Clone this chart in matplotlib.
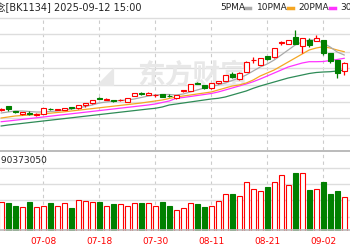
import matplotlib
matplotlib.use("Agg")
import matplotlib.pyplot as plt

plt.rcParams['font.family'] = ['DejaVu Sans', 'Noto Sans CJK SC']

# trading days visible in the crop (06-30 .. 09-05)
dates = ['06-30', '07-01', '07-02', '07-03', '07-04', '07-07', '07-08', '07-09', '07-10', '07-11',
         '07-14', '07-15', '07-16', '07-17', '07-18', '07-21', '07-22', '07-23', '07-24', '07-25',
         '07-28', '07-29', '07-30', '07-31', '08-01', '08-04', '08-05', '08-06', '08-07', '08-08',
         '08-11', '08-12', '08-13', '08-14', '08-15', '08-18', '08-19', '08-20', '08-21', '08-22',
         '08-25', '08-26', '08-27', '08-28', '08-29', '09-01', '09-02', '09-03', '09-04', '09-05']

open_ = [40.0, 44.0, 39.3, 35.7, 36.8, 35.3, 36.0, 41.2, 40.3, 40.0,
         42.5, 41.7, 45.0, 46.7, 51.9, 50.3, 49.5, 49.6, 48.3, 54.3,
         56.9, 55.0, 54.8, 55.7, 54.2, 51.7, 59.0, 59.3, 66.9, 65.0,
         61.7, 66.7, 69.3, 75.7, 70.7, 78.3, 89.7, 85.0, 94.0, 92.7,
         107.0, 106.0, 113.3, 104.0, 110.0, 109.3, 110.0, 96.7, 90.0, 79.3]
high = [42.0, 44.5, 39.5, 38.0, 38.7, 37.0, 42.3, 42.0, 41.5, 42.0,
        43.0, 45.3, 47.0, 50.3, 53.0, 51.7, 50.3, 50.7, 52.0, 57.0,
        57.7, 57.7, 56.0, 56.0, 55.7, 55.3, 60.0, 66.0, 68.0, 65.3,
        67.0, 69.3, 75.3, 78.3, 77.7, 88.7, 92.7, 92.0, 94.3, 102.0,
        109.5, 110.3, 120.0, 112.0, 111.7, 115.0, 110.3, 97.0, 90.3, 87.7]
low = [39.5, 39.3, 36.7, 35.5, 34.7, 34.0, 35.7, 40.0, 40.0, 39.7,
       41.5, 41.5, 43.3, 46.5, 50.7, 50.0, 48.3, 49.0, 48.0, 54.0,
       55.0, 54.7, 53.5, 53.0, 53.0, 51.5, 58.0, 59.0, 66.0, 61.5,
       61.5, 66.5, 69.0, 72.5, 70.5, 78.0, 87.3, 84.7, 90.5, 92.5,
       105.0, 105.7, 105.7, 97.3, 102.7, 109.0, 95.0, 87.3, 71.7, 75.0]
close = [41.5, 41.3, 38.0, 37.7, 36.5, 36.0, 42.0, 40.8, 41.0, 41.7,
         42.1, 45.0, 46.7, 50.0, 51.5, 51.0, 49.2, 50.3, 51.7, 56.7,
         56.5, 57.3, 55.2, 53.3, 53.8, 55.0, 59.5, 65.7, 66.5, 61.7,
         66.7, 69.0, 75.0, 72.7, 77.3, 88.3, 90.3, 91.7, 90.7, 101.7,
         107.6, 110.0, 106.0, 111.7, 105.0, 111.7, 96.7, 89.3, 77.3, 87.3]
volume = [29.0, 27.4, 24.7, 23.7, 29.0, 23.4, 25.0, 27.4, 25.0, 27.7,
          22.4, 30.4, 29.7, 28.7, 28.7, 24.4, 26.4, 26.7, 25.0, 27.7,
          27.4, 27.4, 24.4, 28.7, 25.0, 20.4, 23.0, 28.0, 27.0, 24.0,
          25.0, 29.7, 36.7, 37.0, 35.0, 48.4, 41.4, 39.4, 43.4, 48.4,
          55.7, 45.7, 57.7, 57.4, 40.7, 41.4, 48.7, 37.0, 39.7, 34.0]

ma5 = [37.0, 38.0, 39.0, 39.0, 38.5, 38.0, 38.0, 38.5, 39.0, 40.0,
       41.0, 42.0, 43.5, 45.0, 47.0, 48.0, 49.0, 49.5, 50.0, 51.0,
       52.5, 54.0, 55.0, 55.5, 55.5, 55.0, 56.0, 58.0, 60.0, 62.0,
       63.5, 65.0, 67.0, 69.5, 72.0, 75.0, 79.0, 83.0, 86.0, 90.0,
       95.0, 100.0, 105.0, 108.0, 110.0, 110.0, 107.0, 103.0, 98.0, 95.0]
ma10 = [32.0, 33.0, 34.0, 34.5, 35.0, 35.5, 36.0, 36.8, 37.5, 38.2,
        39.0, 39.8, 40.6, 41.4, 42.2, 43.0, 43.8, 44.6, 45.4, 46.2,
        47.0, 48.0, 49.0, 50.0, 51.5, 53.0, 54.0, 55.0, 56.0, 57.0,
        58.0, 60.0, 62.0, 64.0, 65.0, 67.0, 70.0, 74.0, 77.0, 80.0,
        84.0, 88.0, 92.0, 96.0, 100.0, 102.0, 103.3, 102.0, 100.0, 98.3]
ma20 = [28.3, 29.0, 29.8, 30.6, 31.4, 32.2, 33.0, 33.8, 34.6, 35.4,
        36.2, 37.0, 37.8, 38.6, 39.4, 40.2, 41.0, 41.8, 42.6, 43.4,
        44.2, 45.0, 46.0, 47.5, 49.0, 51.7, 52.5, 53.5, 54.5, 55.5,
        56.5, 58.0, 60.0, 62.0, 64.0, 66.0, 68.3, 71.0, 74.0, 77.0,
        80.0, 83.0, 85.0, 87.0, 88.3, 88.3, 88.5, 89.5, 90.5, 91.7]
ma30 = [24.0, 25.0, 25.8, 26.6, 27.4, 28.2, 29.0, 29.8, 30.6, 31.4,
        32.2, 33.0, 33.8, 34.6, 35.4, 36.2, 37.0, 37.8, 38.6, 39.4,
        40.2, 41.0, 41.7, 43.0, 45.0, 46.0, 47.0, 48.0, 49.0, 50.0,
        51.0, 51.7, 53.0, 55.0, 57.0, 59.0, 61.7, 64.0, 66.0, 68.0,
        70.0, 72.0, 73.5, 75.0, 76.5, 77.5, 78.0, 78.3, 79.0, 80.0]

tick_labels = ['06-26', '07-08', '07-18', '07-30', '08-11', '08-21', '09-02']

RED = '#ff0000'
GREEN = '#008000'
W, H = 350, 250


def box(x0, y0, x1, y1):
    # pixel box (top-down) -> figure fraction rect
    return [x0 / W, 1 - y1 / H, (x1 - x0) / W, (y1 - y0) / H]


fig = plt.figure(figsize=(W / 100, H / 100), dpi=100)
ax = fig.add_axes(box(0, 17.3, 350, 150))
axv = fig.add_axes(box(0, 150, 350, 230.7))

xs = list(range(len(dates)))
pos = {d: k for k, d in enumerate(dates)}
tick_x = [pos.get(t, pos['07-08'] - 8) for t in tick_labels]

for a in (ax, axv):
    a.set_xlim(-0.17, 49.83)
    for s in a.spines.values():
        s.set_visible(False)
    a.set_xticks([])
    a.set_yticks([])
    for t in tick_x:
        a.axvline(t, color='#cccccc', lw=0.8, ls=(0, (3, 3)), zorder=0)

ax.set_ylim(0, 132.7)
for g in [15.0, 31.7, 48.3, 65.0, 81.7, 98.3, 116.0, 132.4]:
    ax.axhline(g, color='#dddddd', lw=1.0, zorder=0)

axv.set_ylim(0, 80.7)
for g in [63.0, 47.0, 30.7, 14.2]:
    axv.axhline(g, color='#dddddd', lw=1.0, zorder=0)
axv.axhline(80.2, color='#bbbbbb', lw=1.4, zorder=0)
axv.axhline(0.3, color='#bbbbbb', lw=1.2, zorder=3)

# watermark
ax.text(0.55, 0.56, '东方财富', transform=ax.transAxes, ha='center', va='center',
        fontsize=20, fontweight='bold', color='#e8e8e8', family=['Noto Sans CJK SC'], zorder=0)
ax.text(0.30, 0.56, '◢', transform=ax.transAxes, ha='center', va='center',
        fontsize=17, color='#e8e8e8', family=['DejaVu Sans'], zorder=0)

# MA lines
ax.plot(xs, ma30, color='#2e8b57', lw=0.9, zorder=1)
ax.plot(xs, ma20, color='#ff33ff', lw=0.9, zorder=1)
ax.plot(xs, ma10, color='#f5a623', lw=0.9, zorder=1)
ax.plot(xs, ma5, color='#aaaaaa', lw=0.9, zorder=1)

# candles + volume
bw = 0.68
for k in xs:
    o, h, l, c = open_[k], high[k], low[k], close[k]
    up = c >= o
    col = RED if up else GREEN
    ax.vlines(k, l, h, color=col, lw=0.9, zorder=2)
    body = max(abs(c - o), 0.6)
    ax.bar(k, body, bottom=min(o, c), width=bw, color='white' if up else GREEN,
           edgecolor=col, linewidth=0.8, zorder=3)
    axv.bar(k, volume[k], width=0.68, color='white' if up else GREEN,
            edgecolor=col, linewidth=0.8, zorder=2)

# date labels
for t, lab in zip(tick_x, tick_labels):
    axv.text(t, -0.13, lab, transform=axv.get_xaxis_transform(), ha='center', va='center',
             fontsize=6.5, color=RED)

# header texts
fig.text(142 / W, 1 - 7.5 / H, '概念[BK1134] 2025-09-12 15:00', ha='right', va='center',
         fontsize=7, color='#222222')
fig.text(48 / W, 1 - 160 / H, '成交量:90373050', ha='right', va='center',
         fontsize=6.5, color='#222222')
fig.text(220 / W, 1 - 7.5 / H, '5PMA', ha='left', va='center', fontsize=6.5, color='#222222')
fig.text(257 / W, 1 - 7.5 / H, '10PMA', ha='left', va='center', fontsize=6.5, color='#222222')
fig.text(298 / W, 1 - 7.5 / H, '20PMA', ha='left', va='center', fontsize=6.5, color='#222222')
fig.text(340 / W, 1 - 7.5 / H, '30PMA', ha='left', va='center', fontsize=6.5, color='#222222')
for x0, col in [(245, '#aaaaaa'), (288, '#f5a623'), (330, '#ff33ff')]:
    fig.add_artist(plt.Line2D([x0 / W, (x0 + 5) / W], [1 - 7.5 / H] * 2, color=col, lw=2.5))

fig.savefig('out.png', dpi=100)
